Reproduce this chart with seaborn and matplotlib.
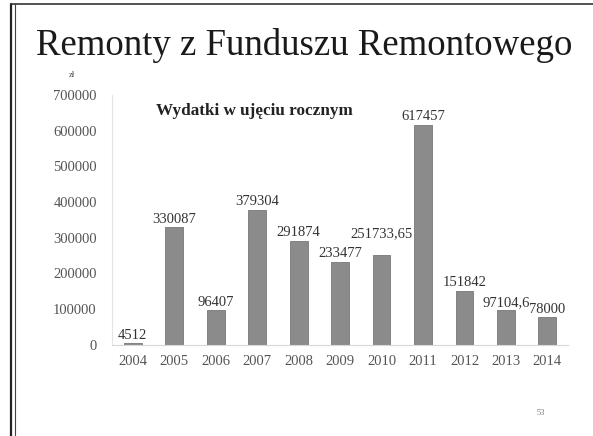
import pandas as pd
import seaborn as sns
import matplotlib.pyplot as plt
from matplotlib.lines import Line2D

# dane
lata = ['2004', '2005', '2006', '2007', '2008', '2009', '2010', '2011', '2012', '2013', '2014']
wydatki = [4512, 330087, 96407, 379304, 291874, 233477, 251733.65, 617457, 151842, 97104.6, 78000]
etykiety = ['4512', '330087', '96407', '379304', '291874', '233477', '251733,65', '617457', '151842', '97104,6', '78000']
y_ticks = [0, 100000, 200000, 300000, 400000, 500000, 600000, 700000]

df = pd.DataFrame({'rok': lata, 'kwota': wydatki})

sns.set_style('white')
plt.rcParams['font.family'] = ['Liberation Serif', 'DejaVu Serif']

fig = plt.figure(figsize=(5.93, 4.36), dpi=100)
ax = fig.add_axes([0.189, 0.209, 0.769, 0.573])

sns.barplot(data=df, x='rok', y='kwota', color='#8b8b8b', width=0.43,
            saturation=1, edgecolor='#777777', linewidth=0.6, ax=ax)

ax.set_ylim(0, 700000)
ax.set_yticks(y_ticks)
ax.set_yticklabels([str(v) for v in y_ticks])
ax.set_xlim(-0.5, len(lata) - 0.5)
ax.set_xlabel('')
ax.set_ylabel('')
ax.tick_params(axis='both', length=0, labelsize=10.5, colors='#555555')
ax.tick_params(axis='y', pad=11)
ax.tick_params(axis='x', pad=7)

for s in ['top', 'right']:
    ax.spines[s].set_visible(False)
ax.spines['left'].set_color('#e4e4e4')
ax.spines['bottom'].set_color('#d8d8d8')
ax.spines['left'].set_linewidth(0.8)

# etykiety wartości
for i, (v, t) in enumerate(zip(wydatki, etykiety)):
    dy = 60000 if t == '251733,65' else 22000
    ax.text(i, v + dy, t, ha='center', va='center', fontsize=10.5, color='#333333')

ax.text(0.311, 0.935, 'Wydatki w ujęciu rocznym', transform=ax.transAxes,
        ha='center', va='center', fontsize=12.3, fontweight='bold', color='#222222')

# tytuł slajdu
fig.text(0.513, 0.895, 'Remonty z Funduszu Remontowego', ha='center', va='center',
         fontsize=26.5, color='#1a1a1a')
fig.text(0.122, 0.828, 'zł', ha='center', va='center', fontsize=6, color='#444444')
fig.text(0.912, 0.053, '53', ha='center', va='center', fontsize=6, color='#777777')

# ramka slajdu
fig.add_artist(Line2D([0.019, 0.019], [0, 0.99], color='#222222', lw=1.6))
fig.add_artist(Line2D([0.026, 0.026], [0, 0.99], color='#444444', lw=0.8))
fig.add_artist(Line2D([0.019, 1.0], [0.99, 0.99], color='#333333', lw=1.2))

plt.savefig('out.png', dpi=100)
